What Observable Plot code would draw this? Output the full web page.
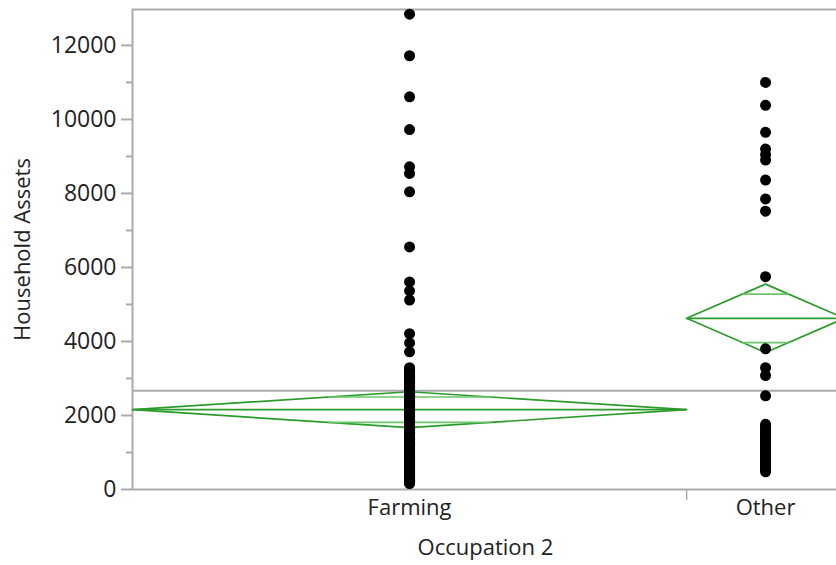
<!DOCTYPE html>
<html><head><meta charset="utf-8">
<script src="https://cdn.jsdelivr.net/npm/d3@7"></script>
<script src="https://cdn.jsdelivr.net/npm/@observablehq/plot@0.6"></script>
<style>body{margin:0;background:#fff} #chart svg{font-family:"Open Sans",sans-serif}</style>
</head><body><div id="chart"></div>
<script>
const groups = ["Farming", "Other"];
const groupN = [179, 51];
const groupMean = [2157, 4625];
const groupCIHalf = [485, 925];
const grandMean = 2670;
const farmingAssets = [12845, 11720, 10610, 9727, 8720, 8540, 8045, 6553, 5610, 5370, 5120,
  4210, 3960, 3720,
  3290, 3250, 3220, 3190, 3170, 3130, 3090, 3060, 3030, 3000, 2980, 2940, 2910, 2890, 2870, 2830,
  2800, 2780, 2760, 2730, 2700, 2670, 2640, 2620, 2600, 2570, 2550, 2520, 2490, 2470, 2450, 2420,
  2400, 2380, 2360, 2330, 2310, 2290, 2270, 2240, 2220, 2200, 2180, 2160, 2140, 2110, 2090, 2070,
  2050, 2020, 2000, 1980, 1960, 1940, 1920, 1890, 1870, 1850, 1830, 1810, 1800, 1770, 1750, 1730,
  1710, 1690, 1680, 1650, 1630, 1610, 1590, 1570, 1550, 1520, 1500, 1480, 1470, 1440, 1420, 1400,
  1380, 1360, 1350, 1320, 1300, 1280, 1260, 1240, 1220, 1200, 1180, 1160, 1150, 1120, 1100, 1080,
  1060, 1040, 1020, 1000, 990, 960, 940, 920, 900, 880, 870, 840, 820, 800, 780, 760, 750, 720,
  700, 680, 660, 640, 630, 600, 580, 560, 540, 520, 500, 480, 470, 440, 420, 400, 380, 360, 350,
  330, 310, 290, 270, 250, 240, 220, 200, 180, 160];
const otherAssets = [11000, 10380, 9650, 9200, 9050, 8900, 8360, 7850, 7520,
  5750, 3800, 3290, 3080, 2530,
  1760, 1700, 1650, 1600, 1560, 1520, 1480, 1430, 1390, 1340, 1300, 1260, 1220, 1170, 1130, 1090,
  1050, 1000, 960, 920, 880, 840, 800, 760, 720, 680, 640, 600, 560, 520, 480];
const yTicks = [0, 2000, 4000, 6000, 8000, 10000, 12000];
const yMinorTicks = [1000, 3000, 5000, 7000, 9000, 11000];
const yMax = 12970;
const xTitle = "Occupation 2";
const yTitle = "Household Assets";

let start = 0;
const g = groups.map((name, i) => {
  const s = start; start += groupN[i];
  return {name, x0: s, x1: s + groupN[i], xc: s + groupN[i] / 2, mean: groupMean[i], half: groupCIHalf[i]};
});
const total = start;
const points = [
  ...farmingAssets.map(v => ({x: g[0].xc, y: v})),
  ...otherAssets.map(v => ({x: g[1].xc, y: v}))
];
const diamond = g.flatMap(d => [
  {k: d.name, x: d.x0, y: d.mean}, {k: d.name, x: d.xc, y: d.mean + d.half},
  {k: d.name, x: d.x1, y: d.mean}, {k: d.name, x: d.xc, y: d.mean - d.half},
  {k: d.name, x: d.x0, y: d.mean}
]);
const f = 1 - Math.SQRT1_2;
const overlap = g.flatMap(d => {
  const hw = (d.x1 - d.x0) / 2 * f, dy = d.half * Math.SQRT1_2;
  return [{x1: d.xc - hw, x2: d.xc + hw, y: d.mean + dy}, {x1: d.xc - hw, x2: d.xc + hw, y: d.mean - dy}];
});

const axisGray = "#ababab";
const green = "#2b9b2b";
const chart = Plot.plot({
  width: 836, height: 565,
  marginLeft: 132, marginRight: -8, marginTop: 9, marginBottom: 76,
  x: {domain: [0, total], axis: null},
  y: {domain: [0, yMax], axis: null},
  style: {fontFamily: "Open Sans", fontSize: "22px", color: "#222", background: "#fff"},
  marks: [
    Plot.frame({stroke: axisGray, strokeWidth: 2}),
    Plot.ruleY([grandMean], {stroke: axisGray, strokeWidth: 2}),
    Plot.axisY(yMinorTicks, {tickSize: 6, text: null, stroke: axisGray, strokeWidth: 2, label: null}),
    Plot.axisY(yTicks, {tickSize: 11, tickPadding: 5, stroke: axisGray, strokeWidth: 2, fill: "#222", fontSize: 23, tickFormat: d => String(d), label: null}),
    Plot.axisX([g[1].x0], {tickSize: 11, text: null, stroke: axisGray, strokeWidth: 1.5, label: null}),
    Plot.text(g, {x: "xc", text: "name", frameAnchor: "bottom", dy: 18, lineAnchor: "middle", fill: "#222", fontSize: 22}),
    Plot.text([xTitle], {frameAnchor: "bottom", dy: 58, dx: -3, lineAnchor: "middle", fill: "#222", fontSize: 22}),
    Plot.text([yTitle], {frameAnchor: "left", dx: -110, rotate: -90, textAnchor: "middle", lineAnchor: "middle", fill: "#222", fontSize: 22}),
    Plot.line(diamond, {x: "x", y: "y", z: "k", stroke: green, strokeWidth: 1.7}),
    Plot.link(g, {x1: "x0", x2: "x1", y1: "mean", y2: "mean", stroke: green, strokeWidth: 1.7}),
    Plot.link(overlap, {x1: "x1", x2: "x2", y1: "y", y2: "y", stroke: "#6cc46c", strokeWidth: 1.7}),
    Plot.dot(points, {x: "x", y: "y", r: 5.5, fill: "#000"})
  ]
});
document.getElementById("chart").append(chart);
</script>
</body></html>
